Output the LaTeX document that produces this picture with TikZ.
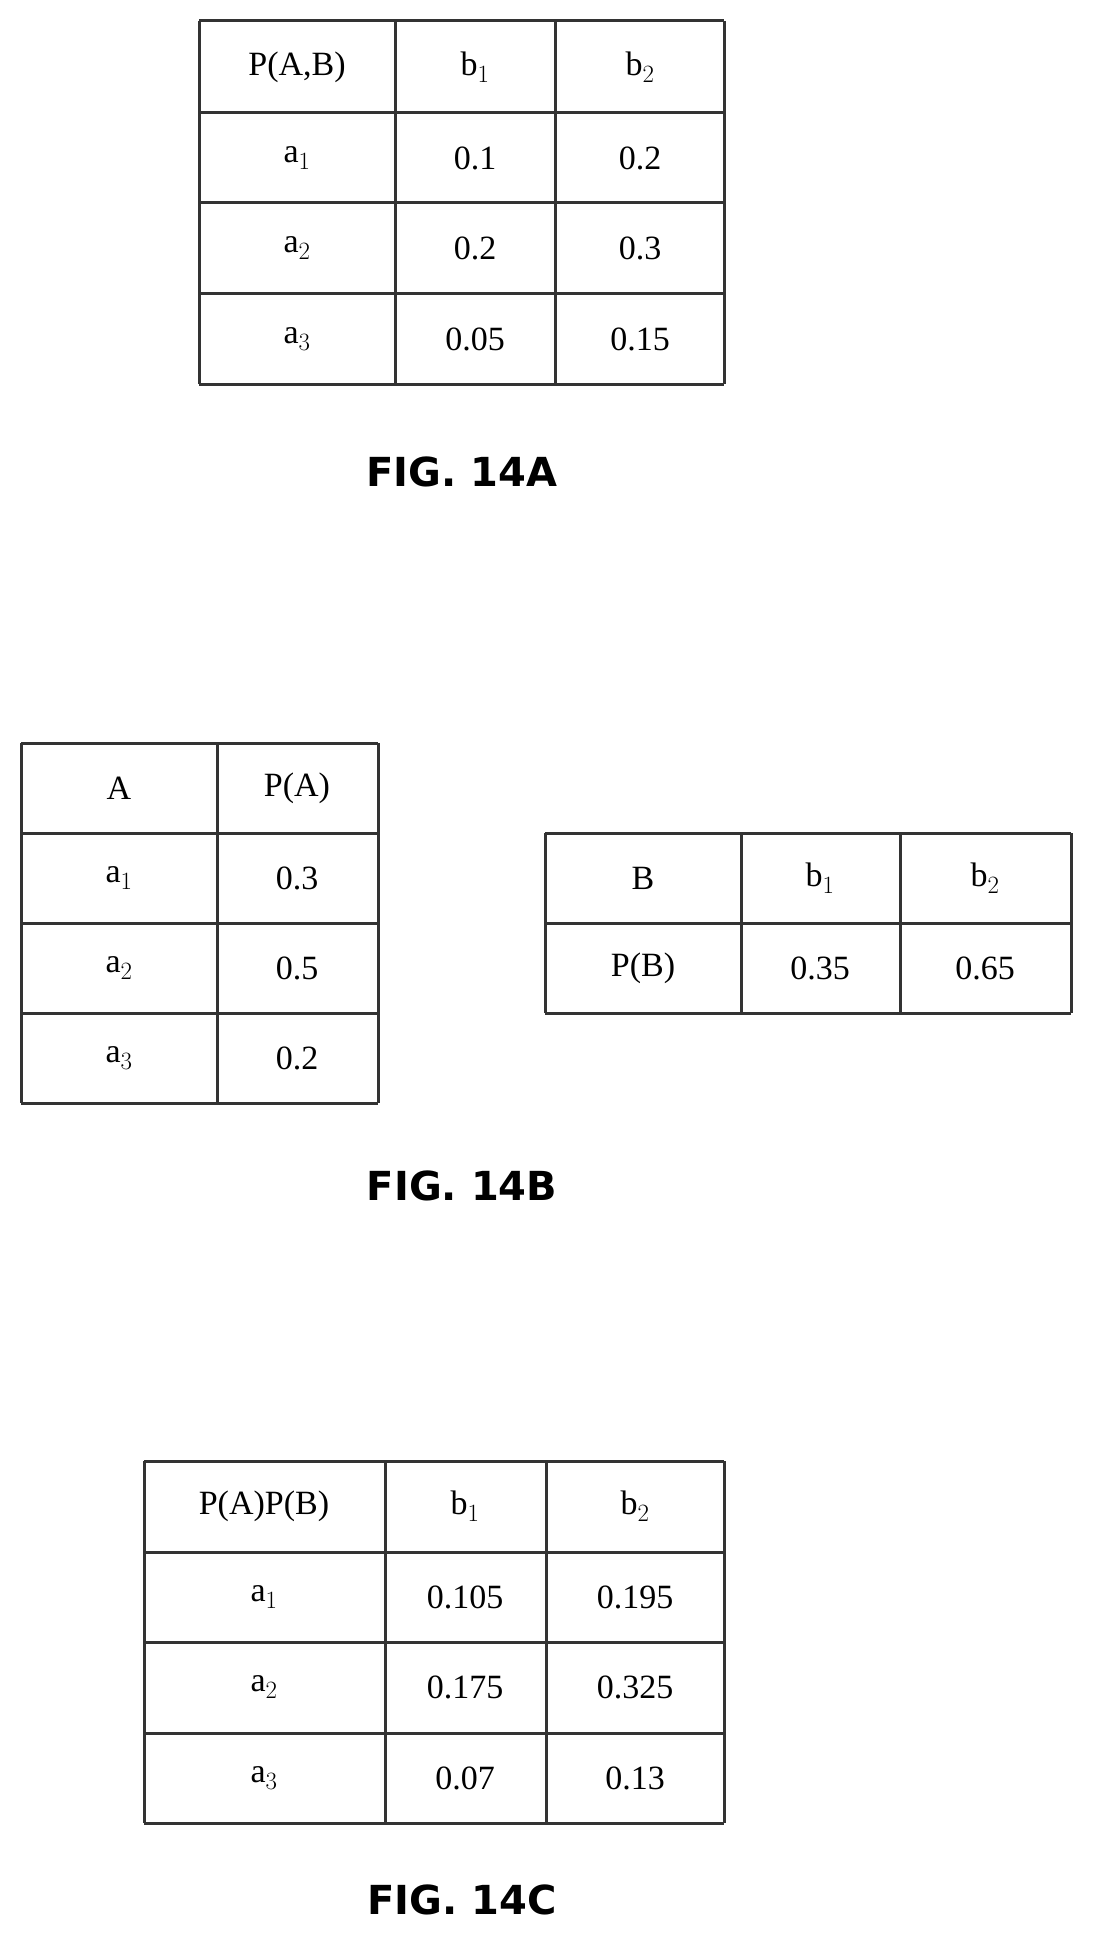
\documentclass[tikz,border=0pt]{standalone}
\usepackage{fontspec}
\setmainfont{Liberation Serif}
\newfontfamily\capfont{DejaVu Sans}
\usetikzlibrary{calc}

\tikzset{
  cell/.style={font=\fontsize{34}{40}\selectfont},
  grid/.style={line width=3pt, draw=black!80},
  figcap/.style={font=\capfont\bfseries\fontsize{40}{48}\selectfont}
}

\begin{document}
\begin{tikzpicture}[x=1pt, y=-1pt]
    \useasboundingbox (0,0) rectangle (1093,1948);
%%%%%%%%%%%%%%%%%%%%%%%%%%%%%%%%%%%%%%%%%%
% FIG. 14A
    \foreach \x in {199,395,555,724} \draw[grid] (\x,21) -- (\x,384);
    \foreach \y in {21,113,202,293,384} \draw[grid] (199,\y) -- (724,\y);
    \node[cell] (jh) at (297,67) {P(A,B)};
    \node[cell] (jb1) at (475,67) {b$_1$};
    \node[cell] (jb2) at (640,67) {b$_2$};
    \node[cell] (ja1) at (297,158) {a$_1$};
    \node[cell] (ja2) at (297,248) {a$_2$};
    \node[cell] (ja3) at (297,339) {a$_3$};
    \node[cell] (j11) at (475,158) {0.1};
    \node[cell] (j12) at (640,158) {0.2};
    \node[cell] (j21) at (475,248) {0.2};
    \node[cell] (j22) at (640,248) {0.3};
    \node[cell] (j31) at (475,339) {0.05};
    \node[cell] (j32) at (640,339) {0.15};
    \node[figcap] (figA) at (462,472) {FIG. 14A};
%%%%%%%%%%%%%%%%%%%%%%%%%%%%%%%%%%%%%%%%%%
% FIG. 14B
    \foreach \x in {21,217,378} \draw[grid] (\x,743) -- (\x,1103);
    \foreach \y in {743,833,923,1013,1103} \draw[grid] (21,\y) -- (378,\y);
    \node[cell] (ah) at (119,788) {A};
    \node[cell] (aph) at (297,788) {P(A)};
    \node[cell] (aa1) at (119,878) {a$_1$};
    \node[cell] (aa2) at (119,968) {a$_2$};
    \node[cell] (aa3) at (119,1058) {a$_3$};
    \node[cell] (ap1) at (297,878) {0.3};
    \node[cell] (ap2) at (297,968) {0.5};
    \node[cell] (ap3) at (297,1058) {0.2};
    \foreach \x in {545,741,900,1071} \draw[grid] (\x,833) -- (\x,1013);
    \foreach \y in {833,923,1013} \draw[grid] (545,\y) -- (1071,\y);
    \node[cell] (bh) at (643,878) {B};
    \node[cell] (bb1) at (820,878) {b$_1$};
    \node[cell] (bb2) at (985,878) {b$_2$};
    \node[cell] (bph) at (643,968) {P(B)};
    \node[cell] (bp1) at (820,968) {0.35};
    \node[cell] (bp2) at (985,968) {0.65};
    \node[figcap] (figB) at (462,1186) {FIG. 14B};
%%%%%%%%%%%%%%%%%%%%%%%%%%%%%%%%%%%%%%%%%%
% FIG. 14C
    \foreach \x in {144,385,546,724} \draw[grid] (\x,1461) -- (\x,1823);
    \foreach \y in {1461,1552,1642,1733,1823} \draw[grid] (144,\y) -- (724,\y);
    \node[cell] (ph) at (264,1506) {P(A)P(B)};
    \node[cell] (pb1) at (465,1506) {b$_1$};
    \node[cell] (pb2) at (635,1506) {b$_2$};
    \node[cell] (pa1) at (264,1597) {a$_1$};
    \node[cell] (pa2) at (264,1687) {a$_2$};
    \node[cell] (pa3) at (264,1778) {a$_3$};
    \node[cell] (p11) at (465,1597) {0.105};
    \node[cell] (p12) at (635,1597) {0.195};
    \node[cell] (p21) at (465,1687) {0.175};
    \node[cell] (p22) at (635,1687) {0.325};
    \node[cell] (p31) at (465,1778) {0.07};
    \node[cell] (p32) at (635,1778) {0.13};
    \node[figcap] (figC) at (462,1900) {FIG. 14C};
\end{tikzpicture}
\end{document}
